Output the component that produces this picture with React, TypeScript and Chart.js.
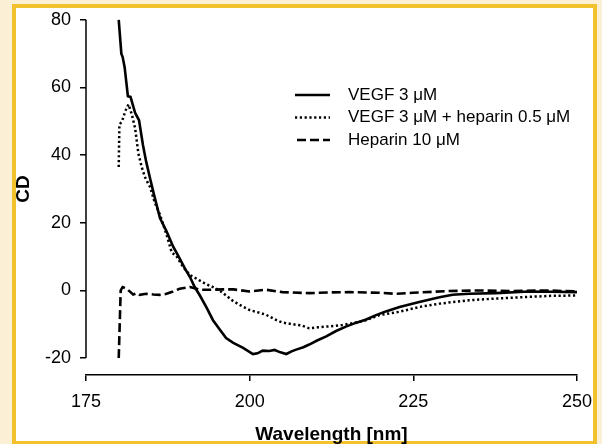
import React, { useEffect, useRef } from "react";
import { Chart, registerables } from "chart.js";

Chart.register(...registerables);

// ---- data ----
const vegfWavelength = [
  180.0, 180.4, 180.6, 180.9, 181.4, 181.8, 182.5, 183.1, 183.7, 184.2, 184.8, 185.3,
  186.3, 187.3, 188.3, 189.3, 190.1, 190.9, 191.6, 192.4, 193.4, 194.4, 195.4, 196.4,
  197.5, 199.0, 200.5, 201.2, 202.0, 203.0, 203.8, 204.7, 205.6, 206.4, 207.1, 208.2,
  209.1, 210.3, 211.7, 213.2, 214.7, 216.2, 217.8, 219.3, 220.8, 222.9, 225.9, 229.0,
  231.0, 233.5, 237.6, 242.7, 246.0, 250.0,
];
const vegfCD = [
  80, 70, 69, 66, 57.4, 57.2, 52.5, 50.3, 43, 38, 33, 29,
  21.4, 17.5, 13, 9.5, 6.5, 3.9, 1, -1.5, -5, -8.8, -11.5, -14.1,
  -15.5, -17, -18.8, -18.6, -17.8, -17.9, -17.6, -18.3, -18.8, -18, -17.5, -16.8,
  -16, -14.8, -13.6, -12, -10.7, -9.6, -8.6, -7.3, -6.2, -4.9, -3.4, -2.0,
  -1.3, -1.0, -0.8, -0.3, -0.4, -0.5,
];

const mixWavelength = [
  180.0, 180.1, 180.5, 181.0, 181.5, 182.0, 182.5, 183.0, 183.5, 184.0, 184.8, 185.5,
  186.3, 187.3, 188.1, 188.8, 189.8, 190.9, 192.4, 193.4, 194.4, 195.4, 196.4, 197.5,
  198.8, 200.0, 201.5, 202.5, 204.1, 205.0, 206.6, 208.0, 209.1, 210.4, 211.7, 213.0,
  214.2, 215.7, 217.8, 219.8, 221.3, 222.9, 225.9, 229.0, 233.5, 237.6, 242.7, 246.0,
  250.0,
];
const mixCD = [
  36.5, 49, 50, 53, 55, 52, 48, 40.5, 36.5, 33.5, 30.5, 26,
  22.4, 16.5, 11.2, 10.2, 7, 4.5, 2.9, 1.8, 1.0, 0, -1.5, -3.2,
  -4.6, -5.8, -6.6, -7.2, -8.8, -9.5, -10, -10.4, -11.2, -10.9, -10.7, -10.5,
  -10.2, -9.7, -8.8, -7.3, -6.8, -6.3, -4.9, -3.9, -2.9, -2.4, -1.9, -1.6,
  -1.5,
];

const heparinWavelength = [
  180.0, 180.3, 180.6, 181.2, 181.8, 182.2, 182.8, 183.2, 184.2, 185.3, 186.3, 187.3,
  188.3, 189.3, 190.9, 192.4, 194.0, 196.0, 197.5, 200.0, 202.5, 205.0, 209.1, 212.0,
  215.2, 219.8, 222.4, 224.9, 230.0, 235.0, 240.0, 245.2, 250.0,
];
const heparinCD = [
  -20, 0, 1, 0.5, -0.5, -1.2, -0.8, -1.3, -1, -1.2, -1.3, -1,
  -0.3, 0.5, 1, 0.2, 0.2, 0.3, 0.3, -0.3, 0.2, -0.5, -0.8, -0.6,
  -0.5, -0.7, -1.0, -0.7, -0.2, 0, -0.2, 0, -0.3,
];

const seriesLabels = ["VEGF 3 \u03bcM", "VEGF 3 \u03bcM + heparin 0.5 \u03bcM", "Heparin 10 \u03bcM"];
const xTickValues = [175, 200, 225, 250];
const yTickValues = [-20, 0, 20, 40, 60, 80];
const xTitle = "Wavelength [nm]";
const yTitle = "CD";

const FONT = "'Liberation Sans', Arial, Helvetica, sans-serif";

const toPoints = (xs: number[], ys: number[]) => xs.map((x, i) => ({ x, y: ys[i] }));

const decorPlugin = {
  id: "decor",
  afterDraw(chart: any) {
    const ctx = chart.ctx as CanvasRenderingContext2D;
    const ys = chart.scales.y;
    const left = chart.chartArea.left;
    const yTop = ys.getPixelForValue(yTickValues[yTickValues.length - 1]);
    const yBot = ys.getPixelForValue(yTickValues[0]);
    ctx.save();
    // y axis line, only over the tick range
    ctx.strokeStyle = "#000";
    ctx.lineWidth = 1.5;
    ctx.setLineDash([]);
    ctx.beginPath();
    ctx.moveTo(left, yTop);
    ctx.lineTo(left, yBot);
    ctx.stroke();
    // y title
    ctx.save();
    ctx.translate(24, (yTop + yBot) / 2);
    ctx.rotate(-Math.PI / 2);
    ctx.font = `bold 19px ${FONT}`;
    ctx.fillStyle = "#000";
    ctx.textAlign = "center";
    ctx.textBaseline = "middle";
    ctx.fillText(yTitle, 0, 0);
    ctx.restore();
    // legend
    chart.data.datasets.forEach((ds: any, i: number) => {
      const ly = 95 + i * 22.5;
      ctx.strokeStyle = "#000";
      ctx.lineWidth = ds.borderWidth;
      ctx.setLineDash(ds.borderDash || []);
      ctx.beginPath();
      ctx.moveTo(i === 2 ? 297 : 295, ly);
      ctx.lineTo(330, ly);
      ctx.stroke();
      ctx.setLineDash([]);
      ctx.font = `17px ${FONT}`;
      ctx.fillStyle = "#000";
      ctx.textAlign = "left";
      ctx.textBaseline = "middle";
      ctx.fillText(ds.label, 348, ly);
    });
    ctx.restore();
  },
};

export default function App() {
  const ref = useRef<HTMLCanvasElement | null>(null);

  useEffect(() => {
    if (!ref.current) return;
    const chart = new Chart(ref.current, {
      type: "line",
      data: {
        datasets: [
          {
            label: seriesLabels[0],
            data: toPoints(vegfWavelength, vegfCD),
            borderColor: "#000",
            borderWidth: 2.6,
            pointRadius: 0,
            tension: 0,
            clip: false as any,
          },
          {
            label: seriesLabels[1],
            data: toPoints(mixWavelength, mixCD),
            borderColor: "#000",
            borderWidth: 2.5,
            borderDash: [2.2, 2.6],
            pointRadius: 0,
            tension: 0,
            clip: false as any,
          },
          {
            label: seriesLabels[2],
            data: toPoints(heparinWavelength, heparinCD),
            borderColor: "#000",
            borderWidth: 2.6,
            borderDash: [9, 4],
            pointRadius: 0,
            tension: 0,
            clip: false as any,
          },
        ],
      },
      options: {
        animation: false,
        responsive: false,
        devicePixelRatio: 1,
        layout: { padding: { left: 16, right: 24, top: 16, bottom: 0 } },
        plugins: { legend: { display: false }, tooltip: { enabled: false } },
        scales: {
          x: {
            type: "linear",
            min: 175,
            max: 250,
            afterBuildTicks: (s: any) => {
              s.ticks = xTickValues.map((v) => ({ value: v }));
            },
            afterFit: (s: any) => {
              s.height = 69;
            },
            ticks: {
              color: "#000",
              font: { family: FONT, size: 18 },
              padding: 10,
              maxRotation: 0,
            },
            grid: {
              drawOnChartArea: false,
              drawTicks: true,
              tickLength: 6,
              color: "#000",
              lineWidth: 1.5,
            },
            border: { display: true, color: "#000", width: 1.5 },
            title: {
              display: true,
              text: xTitle,
              color: "#000",
              font: { family: FONT, size: 19, weight: "bold", lineHeight: 1 },
              padding: 0,
            },
          },
          y: {
            type: "linear",
            min: -25,
            max: 80,
            afterBuildTicks: (s: any) => {
              s.ticks = yTickValues.map((v) => ({ value: v }));
            },
            afterFit: (s: any) => {
              s.width = 70;
            },
            ticks: {
              color: "#000",
              font: { family: FONT, size: 18 },
              padding: 9,
            },
            grid: {
              drawOnChartArea: false,
              drawTicks: true,
              tickLength: 6,
              color: "#000",
              lineWidth: 1.5,
            },
            border: { display: false },
            title: { display: false },
          },
        },
      },
      plugins: [decorPlugin],
    } as any);
    return () => chart.destroy();
  }, []);

  return (
    <div
      style={{
        position: "fixed",
        left: 0,
        top: 0,
        width: 602,
        height: 444,
        background: "#fbefd6",
        overflow: "hidden",
      }}
    >
      <div
        style={{
          position: "absolute",
          left: 12,
          top: 4,
          width: 585,
          height: 440,
          boxSizing: "border-box",
          border: "4px solid #f2c12e",
          borderBottomWidth: 3,
          background: "#fff",
        }}
      />
      <canvas
        ref={ref}
        width={602}
        height={444}
        style={{ position: "absolute", left: 0, top: 0, width: 602, height: 444 }}
      />
    </div>
  );
}
